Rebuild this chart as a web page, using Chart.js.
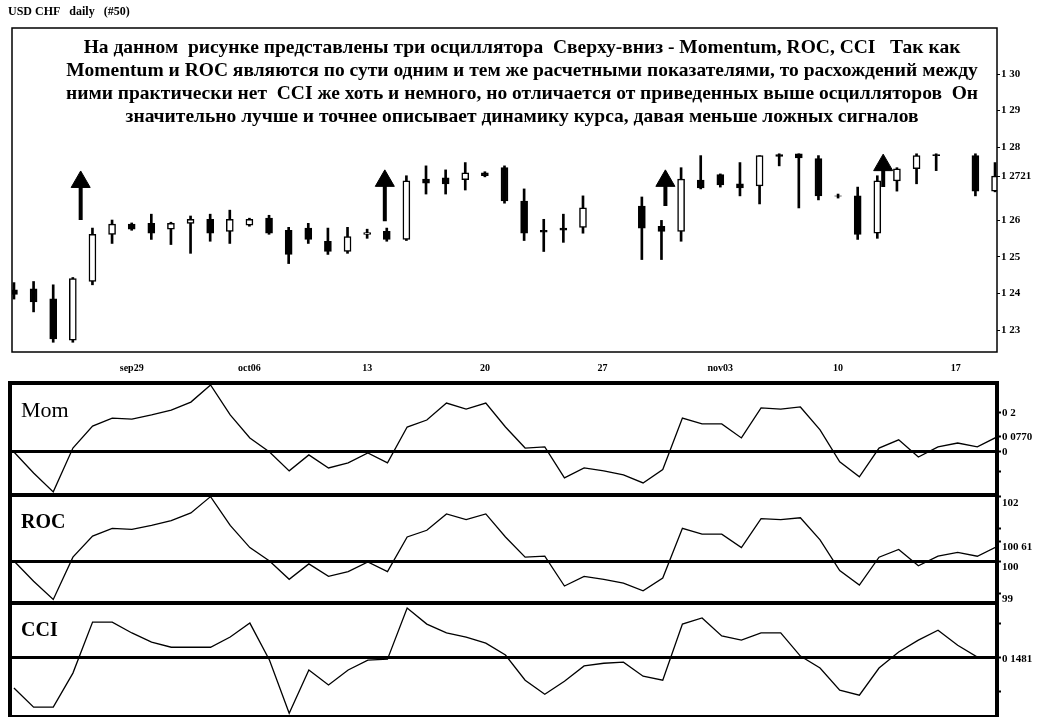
<!DOCTYPE html>
<html lang="ru">
<head>
<meta charset="UTF-8">
<title>USD CHF daily - Momentum, ROC, CCI</title>
<script src="https://cdn.jsdelivr.net/npm/chart.js"></script>
<style>
    body { margin: 0; background: #fff; overflow: hidden; }
    #wrap { position: relative; width: 1043px; height: 717px; }
    canvas { position: absolute; left: 0; }
    #price { top: 0; }
    #osc { top: 373px; }
</style>
</head>
<body>
<div id="wrap">
    <canvas id="price" width="1043" height="380"></canvas>
    <canvas id="osc" width="1043" height="354"></canvas>
</div>
<script>
    // daily bars, index 0..50 (null = no bar that day)
    const opens  = [1.2410, 1.2413, 1.2386, 1.2273, 1.2433, 1.2562, 1.2590, 1.2592, 1.2576, 1.2592,
                    1.2603, 1.2570, 1.2587, 1.2606, 1.2573, 1.2579, 1.2543, 1.2515, 1.2562, 1.2570,
                    1.2548, 1.2713, 1.2716, 1.2711, 1.2730, 1.2744, 1.2653, 1.2573, 1.2579, 1.2581,
                    null,   null,   1.2639, 1.2584, 1.2570, 1.2710, 1.2725, 1.2700, 1.2694, 1.2780,
                    1.2782, 1.2769, 1.2667, 1.2667, 1.2565, 1.2708, 1.2741, 1.2780, null,   1.2777,
                    1.2680];
    const highs  = [1.2430, 1.2433, 1.2424, 1.2444, 1.2579, 1.2601, 1.2593, 1.2617, 1.2595, 1.2612,
                    1.2617, 1.2628, 1.2606, 1.2614, 1.2581, 1.2592, 1.2579, 1.2581, 1.2576, 1.2579,
                    1.2722, 1.2749, 1.2738, 1.2758, 1.2733, 1.2749, 1.2686, 1.2603, 1.2617, 1.2667,
                    null,   null,   1.2664, 1.2600, 1.2744, 1.2777, 1.2727, 1.2758, 1.2777, 1.2782,
                    1.2782, 1.2777, 1.2672, 1.2691, 1.2722, 1.2744, 1.2782, 1.2782, null,   1.2782,
                    1.2758];
    const lows   = [1.2385, 1.2350, 1.2267, 1.2267, 1.2424, 1.2537, 1.2573, 1.2548, 1.2534, 1.2510,
                    1.2543, 1.2537, 1.2584, 1.2562, 1.2482, 1.2537, 1.2507, 1.2510, 1.2551, 1.2543,
                    1.2545, 1.2672, 1.2672, 1.2683, 1.2719, 1.2647, 1.2545, 1.2515, 1.2540, 1.2565,
                    null,   null,   1.2493, 1.2493, 1.2543, 1.2686, 1.2691, 1.2667, 1.2645, 1.2749,
                    1.2634, 1.2656, 1.2661, 1.2548, 1.2551, 1.2680, 1.2700, 1.2736, null,   1.2667,
                    1.2678];
    const closes = [1.2398, 1.2377, 1.2276, 1.2441, 1.2562, 1.2590, 1.2576, 1.2565, 1.2592, 1.2603,
                    1.2565, 1.2603, 1.2603, 1.2565, 1.2507, 1.2548, 1.2515, 1.2556, 1.2567, 1.2548,
                    1.2708, 1.2702, 1.2700, 1.2730, 1.2722, 1.2653, 1.2565, 1.2568, 1.2573, 1.2634,
                    null,   null,   1.2579, 1.2570, 1.2713, 1.2689, 1.2697, 1.2689, 1.2777, 1.2775,
                    1.2771, 1.2667, 1.2666, 1.2562, 1.2708, 1.2741, 1.2777, 1.2777, null,   1.2680,
                    1.2721];

    // oscillators, same 51 days
    const mom = [0.000, -0.108, -0.205, 0.020, 0.133, 0.174, 0.169, 0.190, 0.215, 0.256,
                 0.344, 0.190, 0.072, 0.000, -0.097, -0.015, -0.082, -0.056, -0.005, -0.056,
                 0.128, 0.164, 0.251, 0.220, 0.251, 0.128, 0.020, 0.026, -0.133, -0.082,
                 -0.097, -0.118, -0.159, -0.090, 0.174, 0.144, 0.144, 0.072, 0.226, 0.220,
                 0.231, 0.113, -0.051, -0.128, 0.020, 0.062, -0.026, 0.026, 0.046, 0.026,
                 0.077];
    const roc = [100.00, 99.37, 98.80, 100.12, 100.78, 101.02, 100.99, 101.11, 101.26, 101.50,
                 102.01, 101.11, 100.42, 100.00, 99.43, 99.91, 99.52, 99.67, 99.97, 99.67,
                 100.75, 100.96, 101.47, 101.29, 101.47, 100.75, 100.12, 100.15, 99.22, 99.52,
                 99.43, 99.31, 99.07, 99.47, 101.02, 100.84, 100.84, 100.42, 101.32, 101.29,
                 101.35, 100.66, 99.70, 99.25, 100.12, 100.36, 99.85, 100.15, 100.27, 100.15,
                 100.45];
    const cci = [-91, -147, -147, -47, 103, 103, 71, 44, 29, 29,
                 29, 59, 100, -9, -165, -38, -82, -38, -9, -6,
                 144, 97, 71, 59, 41, 6, -68, -109, -71, -26,
                 -18, -15, -56, -68, 97, 115, 62, 50, 71, 71,
                 3, -32, -97, -112, -32, 15, 50, 79, 35, 0,
                 0.1481];

    // week labels under the price panel
    const weekIdx = [6, 12, 18, 24, 30, 36, 42, 48];
    const weekLabels = ['sep29', 'oct06', '13', '20', '27', 'nov03', '10', '17'];

    // right-hand tick values and their printed labels
    const priceTicks = [1.30, 1.29, 1.28, 1.2721, 1.26, 1.25, 1.24, 1.23];
    const priceTickLabels = ['1 30', '1 29', '1 28', '1 2721', '1 26', '1 25', '1 24', '1 23'];
    const momTicks = [0.2, 0.077, 0, -0.1];
    const momTickLabels = ['0 2', '0 0770', '0', ''];
    const rocTicks = [102, 101, 100.61, 100, 99];
    const rocTickLabels = ['102', '', '100 61', '100', '99'];
    const cciTicks = [100, 0.1481, -100];
    const cciTickLabels = ['', '0 1481', ''];

    // hand-drawn up arrows (bar position, head centre price, tail price)
    const arrowX = [3.4, 18.9, 33.2, 44.3];
    const arrowHead = [1.2705, 1.2708, 1.2708, 1.2751];
    const arrowTail = [1.2601, 1.2598, 1.2639, 1.2691];

    const noteLines = [
        'На данном  рисунке представлены три осциллятора  Сверху-вниз - Momentum, ROC, CCI   Так как',
        'Momentum и ROC являются по сути одним и тем же расчетными показателями, то расхождений между',
        'ними практически нет  CCI же хоть и немного, но отличается от приведенных выше осцилляторов  Он',
        'значительно лучше и точнее описывает динамику курса, давая меньше ложных сигналов'
    ];

    Chart.defaults.color = '#000';
    Chart.defaults.font.family = '"Liberation Serif", "DejaVu Serif", serif';

    // black box round the plot area (or round each stacked y axis)
    function framePlugin(width, axisIds) {
        return {
            id: 'frame',
            afterDatasetsDraw(chart) {
                const {ctx, chartArea} = chart;
                ctx.save();
                ctx.strokeStyle = '#000';
                ctx.lineWidth = width;
                (axisIds || [null]).forEach(id => {
                    const top = id ? chart.scales[id].top : chartArea.top;
                    const bottom = id ? chart.scales[id].bottom : chartArea.bottom;
                    ctx.strokeRect(chartArea.left, top, chartArea.right - chartArea.left, bottom - top);
                });
                ctx.restore();
            }
        };
    }

    const notePlugin = {
        id: 'note',
        afterDraw(chart) {
            const {ctx, chartArea} = chart;
            ctx.save();
            ctx.font = 'bold 19.5px "Liberation Serif"';
            ctx.fillStyle = '#000';
            ctx.textAlign = 'center';
            ctx.textBaseline = 'middle';
            noteLines.forEach((line, k) => ctx.fillText(line, 522, chartArea.top + 20 + k * 23));
            ctx.restore();
        }
    };

    const panelNames = [
        {axis: 'mom', text: 'Mom', font: '22px "Liberation Serif"'},
        {axis: 'roc', text: 'ROC', font: 'bold 20px "Liberation Serif"'},
        {axis: 'cci', text: 'CCI', font: 'bold 20px "Liberation Serif"'}
    ];
    const panelNamePlugin = {
        id: 'panelNames',
        afterDraw(chart) {
            const {ctx, chartArea} = chart;
            ctx.save();
            ctx.fillStyle = '#000';
            ctx.textBaseline = 'middle';
            panelNames.forEach(p => {
                ctx.font = p.font;
                ctx.fillText(p.text, chartArea.left + 11, chart.scales[p.axis].top + 28);
            });
            ctx.restore();
        }
    };

    const tickFont = {size: 11, weight: 'bold'};

    function fixedTicks(values) {
        return axis => { axis.ticks = values.map(v => ({value: v})); };
    }

    // ---------- price panel ----------
    const present = i => opens[i] !== null;
    const idx = opens.map((_, i) => i).filter(present);

    const stemPoints = [];
    arrowX.forEach((x, k) => {
        stemPoints.push({x: x, y: arrowHead[k]}, {x: x, y: arrowTail[k]}, {x: x, y: null});
    });

    new Chart(document.getElementById('price'), {
        type: 'bar',
        data: {
            datasets: [
                {
                    type: 'scatter',
                    data: arrowX.map((x, k) => ({x: x, y: arrowHead[k]})),
                    pointStyle: 'triangle',
                    pointRadius: 11,
                    backgroundColor: '#000',
                    borderColor: '#000',
                    borderWidth: 1
                },
                {
                    type: 'line',
                    data: stemPoints,
                    borderColor: '#000',
                    borderWidth: 4,
                    pointRadius: 0,
                    spanGaps: false
                },
                {
                    label: 'body',
                    data: idx.map(i => ({x: i, y: [opens[i], closes[i]]})),
                    grouped: false,
                    barThickness: 7,
                    borderWidth: 1.5,
                    borderColor: '#000',
                    borderSkipped: false,
                    backgroundColor: c => (c.raw && closes[c.raw.x] >= opens[c.raw.x]) ? '#fff' : '#000'
                },
                {
                    label: 'wick',
                    data: idx.map(i => ({x: i, y: [lows[i], highs[i]]})),
                    grouped: false,
                    barThickness: 2,
                    backgroundColor: '#000'
                }
            ]
        },
        options: {
            responsive: false,
            animation: false,
            layout: {padding: {left: 8, right: 0, top: 0, bottom: 0}},
            plugins: {
                legend: {display: false},
                tooltip: {enabled: false},
                title: {
                    display: true,
                    text: 'USD CHF   daily   (#50)',
                    align: 'start',
                    font: {size: 12, weight: 'bold'},
                    padding: {top: 5, bottom: 8.6}
                }
            },
            scales: {
                x: {
                    type: 'linear',
                    min: -0.1,
                    max: 50.1,
                    offset: false,
                    afterBuildTicks: fixedTicks(weekIdx),
                    afterFit: a => { a.height = 28; },
                    grid: {display: false},
                    border: {display: false},
                    ticks: {
                        autoSkip: false,
                        maxRotation: 0,
                        padding: 2,
                        font: {size: 10, weight: 'bold'},
                        callback: (v, i) => weekLabels[i]
                    }
                },
                y: {
                    type: 'linear',
                    position: 'right',
                    min: 1.22404,
                    max: 1.31257,
                    afterBuildTicks: fixedTicks(priceTicks),
                    afterFit: a => { a.width = 46; },
                    border: {display: false},
                    grid: {drawOnChartArea: false, tickLength: 3, tickColor: '#000', tickWidth: 1},
                    ticks: {
                        autoSkip: false,
                        padding: 1,
                        font: tickFont,
                        callback: (v, i) => priceTickLabels[i]
                    }
                }
            }
        },
        plugins: [framePlugin(1.5), notePlugin]
    });

    // ---------- oscillator panels ----------
    function oscAxis(ticks, labels, ref, min, max, weight, offset) {
        return {
            type: 'linear',
            position: 'right',
            stack: 'osc',
            stackWeight: weight,
            min: min,
            max: max,
            afterBuildTicks: fixedTicks(ticks),
            afterFit: a => { a.width = 46; },
            border: {display: false},
            grid: {
                color: c => (c.tick && c.tick.value === ref) ? '#000' : 'rgba(0,0,0,0)',
                lineWidth: 3,
                tickColor: '#000',
                tickWidth: 2,
                tickLength: 4
            },
            ticks: {
                autoSkip: false,
                padding: 1,
                labelOffset: offset,
                font: tickFont,
                callback: (v, i) => labels[i]
            }
        };
    }

    const oscLine = (values, axisId) => ({
        data: values.map((v, i) => ({x: i, y: v})),
        yAxisID: axisId,
        borderColor: '#000',
        borderWidth: 1.3,
        pointRadius: 0,
        tension: 0
    });

    new Chart(document.getElementById('osc'), {
        type: 'line',
        data: {
            datasets: [oscLine(mom, 'mom'), oscLine(roc, 'roc'), oscLine(cci, 'cci')]
        },
        options: {
            responsive: false,
            animation: false,
            layout: {padding: {left: 10, right: 0, top: 10, bottom: 10}},
            plugins: {legend: {display: false}, tooltip: {enabled: false}},
            scales: {
                x: {type: 'linear', min: -0.2, max: 50, display: false},
                mom: oscAxis(momTicks, momTickLabels, 0, -0.221, 0.354, 112, 0),
                roc: oscAxis(rocTicks, rocTickLabels, 100, 98.69, 102.06, 108, 6),
                cci: oscAxis(cciTicks, cciTickLabels, 0.1481, -176, 159, 114, 2)
            }
        },
        plugins: [framePlugin(4, ['mom', 'roc', 'cci']), panelNamePlugin]
    });
</script>
</body>
</html>
